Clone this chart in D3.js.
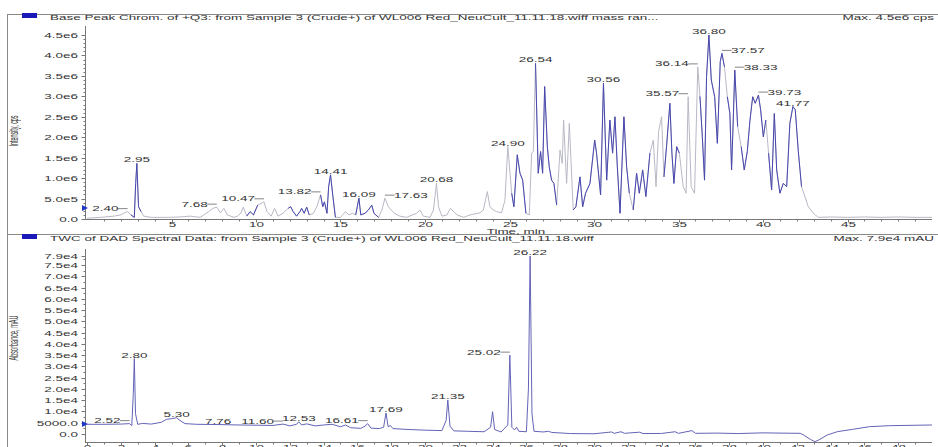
<!DOCTYPE html>
<html>
<head>
<meta charset="utf-8">
<style>
  body { margin: 0; background: #fff; }
  svg text { font-family: 'Liberation Sans', Arial, sans-serif; font-size: 7.5px; fill: #333; }
</style>
<script src="https://cdn.jsdelivr.net/npm/d3@7"></script>
</head>
<body>
<script>
// ---- data: base peak chromatogram (+Q3), time in min, intensity in cps
const topTimes = [0.0,0.8,1.6,2.0,2.25,2.40,2.6,2.8,2.88,2.95,3.05,3.2,3.35,3.8,4.8,5.5,6.1,6.7,7.2,7.45,7.68,7.9,8.1,8.3,8.5,8.7,8.9,9.1,9.25,9.45,9.65,9.85,10.1,10.3,10.47,10.65,10.9,11.1,11.3,11.6,11.9,12.05,12.2,12.4,12.6,12.7,12.85,13.0,13.15,13.4,13.6,13.82,13.95,14.05,14.2,14.3,14.41,14.55,14.7,15.0,15.3,15.5,15.7,15.9,16.09,16.2,16.45,16.65,16.85,16.98,17.25,17.45,17.63,17.83,18.0,18.2,18.5,18.9,19.5,19.7,19.9,20.3,20.5,20.68,20.8,21.0,21.3,21.5,21.7,21.9,22.3,22.66,23.25,23.45,23.69,23.84,24.04,24.24,24.53,24.73,24.90,25.13,25.26,25.46,25.62,25.78,25.97,26.17,26.31,26.41,26.54,26.70,26.84,26.96,27.08,27.24,27.35,27.49,27.63,27.79,27.99,28.12,28.20,28.38,28.54,28.77,28.93,29.17,29.33,29.50,29.76,30.04,30.15,30.39,30.56,30.75,30.94,31.10,31.24,31.38,31.54,31.77,31.93,32.09,32.32,32.52,32.68,32.88,33.07,33.31,33.51,33.67,33.82,34.00,34.14,34.30,34.49,34.61,34.73,34.89,35.05,35.28,35.45,35.57,35.75,35.95,36.14,36.27,36.41,36.54,36.66,36.80,36.94,37.14,37.30,37.47,37.57,37.72,37.89,38.04,38.14,38.24,38.33,38.50,38.71,38.89,39.07,39.23,39.39,39.54,39.73,39.86,40.02,40.17,40.33,40.51,40.67,40.81,41.00,41.20,41.40,41.59,41.77,41.91,42.09,42.28,42.48,42.68,42.98,43.27,44,45,46,47,48,49,50];
const topIntensity = [0.02e6,0.04e6,0.07e6,0.10e6,0.16e6,0.18e6,0.10e6,0.04e6,0.87e6,1.36e6,0.30e6,0.18e6,0.07e6,0.04e6,0.04e6,0.05e6,0.07e6,0.04e6,0.18e6,0.26e6,0.29e6,0.15e6,0.26e6,0.10e6,0.07e6,0.04e6,0.07e6,0.14e6,0.29e6,0.07e6,0.18e6,0.10e6,0.34e6,0.38e6,0.42e6,0.18e6,0.07e6,0.26e6,0.07e6,0.14e6,0.26e6,0.30e6,0.18e6,0.07e6,0.18e6,0.26e6,0.14e6,0.29e6,0.10e6,0.14e6,0.30e6,0.59e6,0.30e6,0.42e6,0.14e6,0.79e6,1.08e6,0.55e6,0.04e6,0.04e6,0.18e6,0.10e6,0.14e6,0.10e6,0.51e6,0.10e6,0.14e6,0.22e6,0.34e6,0.14e6,0.04e6,0.22e6,0.51e6,0.30e6,0.22e6,0.14e6,0.07e6,0.04e6,0.14e6,0.22e6,0.07e6,0.04e6,0.22e6,0.87e6,0.30e6,0.07e6,0.10e6,0.26e6,0.18e6,0.10e6,0.04e6,0.10e6,0.15e6,0.22e6,0.67e6,0.30e6,0.22e6,0.18e6,0.15e6,0.46e6,1.77e6,0.63e6,0.30e6,1.57e6,1.12e6,0.95e6,0.14e6,0.10e6,1.61e6,1.65e6,3.81e6,1.12e6,1.65e6,1.12e6,3.24e6,1.77e6,1.28e6,0.95e6,0.87e6,0.34e6,1.69e6,1.36e6,2.42e6,0.87e6,2.34e6,0.22e6,0.30e6,1.03e6,0.30e6,0.63e6,0.87e6,1.93e6,1.61e6,0.59e6,3.32e6,0.95e6,2.42e6,1.61e6,2.50e6,1.28e6,0.14e6,2.50e6,1.28e6,0.63e6,0.22e6,1.12e6,0.63e6,1.20e6,0.55e6,1.61e6,1.93e6,0.79e6,2.14e6,2.50e6,1.03e6,1.81e6,2.83e6,1.61e6,0.87e6,1.77e6,1.61e6,0.79e6,0.63e6,2.99e6,0.79e6,0.63e6,3.72e6,3.00e6,2.01e6,0.95e6,3.48e6,4.50e6,3.40e6,2.99e6,1.85e6,3.85e6,4.05e6,3.72e6,2.99e6,2.58e6,1.20e6,2.42e6,3.64e6,2.26e6,1.77e6,1.20e6,1.65e6,2.42e6,2.99e6,2.83e6,3.03e6,2.67e6,2.01e6,2.42e6,1.61e6,0.71e6,2.58e6,1.20e6,0.63e6,0.87e6,0.79e6,2.34e6,2.75e6,2.67e6,1.65e6,0.79e6,0.55e6,0.30e6,0.14e6,0.04e6,0.05e6,0.04e6,0.05e6,0.04e6,0.05e6,0.04e6,0.04e6];
const topPeakTimes = [2.40,2.95,7.68,10.47,13.82,14.41,16.09,17.63,20.68,24.90,26.54,30.56,35.57,36.14,36.80,37.57,38.33,39.73,41.77];
// stretches of the trace that the software drew in dark blue
const topDarkSpans = [[2.8,3.1],[9.55,9.95],[11.95,12.25],[12.55,13.1],[13.9,14.65],[15.95,16.2],[16.6,17.05],[25.2,25.85],[26.65,27.7],[28.9,29.6],[29.9,30.4],[30.7,31.95],[32.4,33.1],[34.2,35.0],[36.3,37.6],[38.0,38.4],[38.8,40.05],[40.45,40.85],[41.2,42.2]];

// ---- data: TWC of DAD, time in min, absorbance in mAU
const dadTimes = [0,1.0,2.0,2.52,2.65,2.74,2.80,2.87,3.0,3.3,3.8,4.4,4.7,5.0,5.3,5.5,5.8,6.5,7.76,9.0,10.0,11.0,11.6,12.0,12.4,12.53,12.7,13.0,13.5,14.0,14.5,15.0,15.3,15.6,16.2,16.45,16.61,16.8,17.3,17.55,17.69,17.82,17.95,18.1,19.0,20.0,21.0,21.25,21.35,21.48,21.7,22.5,23.5,23.88,24.0,24.12,24.5,24.9,25.02,25.14,25.3,25.42,25.55,26.0,26.12,26.22,26.33,26.45,27.0,27.3,27.5,28.6,30.0,31.04,31.2,31.6,31.8,32.7,32.9,34.0,34.8,35.0,35.8,36.0,37.3,38.5,40.0,41.0,42.2,42.4,42.8,43.07,43.3,43.8,44.4,45.3,46.3,47.5,50.0];
const dadAbsorbance = [4300,4300,4400,4600,3700,18000,33500,9000,4300,4700,4400,5200,6500,6800,7200,6000,4600,4300,4200,4000,3900,3800,4400,3600,4300,5400,4000,4500,3600,4000,4300,3200,4000,2800,2500,3500,4600,2600,2400,3000,9300,3200,3800,2400,2000,1700,1500,6000,15100,3500,1400,1200,1000,3000,9900,2000,900,4000,35000,3000,1800,3000,1200,1000,20000,79000,9000,1200,900,1200,700,200,100,900,300,1000,300,800,200,250,1000,300,1500,300,400,200,500,400,300,-440,-2370,-3400,-2660,-440,1030,2070,3250,3700,4000];
const dadPeakTimes = [2.52,2.80,5.30,7.76,11.60,12.53,16.61,17.69,21.35,25.02,26.22];

// ---- ticks
const topYTicks = [0,5e5,1e6,1.5e6,2e6,2.5e6,3e6,3.5e6,4e6,4.5e6];
const topXTicks = [5,10,15,20,25,30,35,40,45];
const dadYTicks = [0,5000,10000,15000,20000,25000,30000,35000,40000,45000,50000,55000,60000,65000,70000,75000,79000];
const dadXTicks = d3.range(0, 50, 2);

const topTitle = "Base Peak Chrom. of +Q3: from Sample 3 (Crude+) of WL006 Red_NeuCult_11.11.18.wiff mass ran...";
const topMax = "Max. 4.5e6 cps";
const dadTitle = "TWC of DAD Spectral Data: from Sample 3 (Crude+) of WL006 Red_NeuCult_11.11.18.wiff";
const dadMax = "Max. 7.9e4 mAU";

// ---- layout
const W = 938, H = 447;
const SX = 1.8;           // the screenshot is stretched sideways
const svg = d3.select('body').append('svg').attr('width', W).attr('height', H);

const x = d3.scaleLinear().domain([0, 50]).range([87, 932]);
const yTop = d3.scaleLinear().domain([0, 4.5e6]).range([219, 35]);
const yDad = d3.scaleLinear().domain([0, 79000]).range([434, 256]);

// wide text helper
function stext(g, px, py, str, anchor) {
    return g.append('text')
        .attr('transform', `translate(${px},${py}) scale(${SX},1)`)
        .attr('text-anchor', anchor || 'start')
        .text(str);
}

const fmtTop = v => v === 0 ? '0.0' : v.toExponential(1).replace('e+', 'e');
const fmtDad = v => v === 0 ? '0.0' : (v < 10000 ? v.toFixed(1) : v.toExponential(1).replace('e+', 'e'));

// frame lines
const frame = svg.append('g').attr('stroke', '#8a8a8a').attr('stroke-width', 1);
frame.append('line').attr('x1', 7.5).attr('x2', 7.5).attr('y1', 14).attr('y2', H);
frame.append('line').attr('x1', 7).attr('x2', W).attr('y1', 14.5).attr('y2', 14.5);
frame.append('line').attr('x1', 7).attr('x2', W).attr('y1', 234.5).attr('y2', 234.5);

// headers
function header(y, title, maxText) {
    svg.append('rect').attr('x', 22).attr('y', y - 7).attr('width', 15).attr('height', 5).attr('fill', '#1a1ab8');
    stext(svg, 50, y, title);
    stext(svg, 934, y, maxText, 'end');
}
header(20, topTitle, topMax);
header(241, dadTitle, dadMax);

// axis helpers
function yAxis(scale, ticks, fmt, minor, y0, y1) {
    const g = svg.append('g').attr('stroke', '#777').attr('stroke-width', 1);
    g.append('line').attr('x1', 85.5).attr('x2', 85.5).attr('y1', y0).attr('y2', y1);
    minor.forEach(v => g.append('line').attr('x1', 83.5).attr('x2', 85.5)
        .attr('y1', Math.round(scale(v)) + 0.5).attr('y2', Math.round(scale(v)) + 0.5));
    ticks.forEach(v => {
        const yy = Math.round(scale(v)) + 0.5;
        g.append('line').attr('x1', 81.5).attr('x2', 85.5).attr('y1', yy).attr('y2', yy);
        stext(svg, 78, yy + 2.6, fmt(v), 'end');
    });
}
function xAxis(yy, ticks, minor, labelY) {
    const g = svg.append('g').attr('stroke', '#777').attr('stroke-width', 1);
    g.append('line').attr('x1', 85).attr('x2', 932).attr('y1', yy + 0.5).attr('y2', yy + 0.5);
    minor.forEach(v => g.append('line').attr('x1', Math.round(x(v)) + 0.5).attr('x2', Math.round(x(v)) + 0.5)
        .attr('y1', yy).attr('y2', yy + 2.5));
    ticks.forEach(v => {
        const xx = Math.round(x(v)) + 0.5;
        g.append('line').attr('x1', xx).attr('x2', xx).attr('y1', yy).attr('y2', yy + 3.5);
        stext(svg, xx, labelY, String(v), 'middle');
    });
}

yAxis(yTop, topYTicks, fmtTop, d3.range(1e5, 4.6e6, 1e5), 26, 219);
xAxis(219, topXTicks, d3.range(1, 50, 1), 226.5);
yAxis(yDad, dadYTicks, fmtDad, d3.range(2500, 79000, 5000), 249, 442);
xAxis(442, dadXTicks, d3.range(1, 50, 2), 449.5);

stext(svg, 516, 233.5, 'Time, min', 'middle');

// rotated axis titles, squeezed like the original
function ytitle(cy, str, len) {
    svg.append('text')
        .attr('transform', `translate(18,${cy}) rotate(-90) scale(1,1.7)`)
        .attr('text-anchor', 'middle')
        .attr('textLength', len).attr('lengthAdjust', 'spacingAndGlyphs')
        .style('font-size', '7px')
        .text(str);
}
ytitle(131, 'Intensity, cps', 31);
ytitle(338, 'Absorbance, mAU', 45);

// baseline markers
[208, 424].forEach(yy => {
    svg.append('path').attr('d', `M82,${yy - 3}L88,${yy}L82,${yy + 3}Z`).attr('fill', '#2236c8');
});

// traces
const topData = topTimes.map((t, i) => ({ t, v: topIntensity[i] }));
const dadData = dadTimes.map((t, i) => ({ t, v: dadAbsorbance[i] }));

const lineTop = d3.line().x(d => x(d.t)).y(d => yTop(d.v));
const lineDad = d3.line().x(d => x(d.t)).y(d => yDad(d.v));

svg.append('path').datum(topData).attr('d', lineTop)
    .attr('fill', 'none').attr('stroke', '#b9b9c6').attr('stroke-width', 1);

topDarkSpans.forEach(([a, b]) => {
    let i0 = topData.findIndex(d => d.t >= a);
    let i1 = topData.length - 1 - [...topData].reverse().findIndex(d => d.t <= b);
    i0 = Math.max(0, i0 - 1); i1 = Math.min(topData.length - 1, i1 + 1);
    svg.append('path').datum(topData.slice(i0, i1 + 1)).attr('d', lineTop)
        .attr('fill', 'none').attr('stroke', '#4848b0').attr('stroke-width', 1);
});

svg.append('path').datum(dadData).attr('d', lineDad)
    .attr('fill', 'none').attr('stroke', '#6464b8').attr('stroke-width', 1);

// peak labels
const topSide = { '2.40': -1, '7.68': -1, '10.47': -1, '13.82': -1, '17.63': 1, '35.57': -1, '36.14': -1, '37.57': 1, '38.33': 1, '39.73': 1 };
const dadSide = { '2.52': -1, '11.60': -1, '16.61': -1, '25.02': -1 };

function peakLabels(peaks, data, yScale, side) {
    const g = svg.append('g');
    peaks.forEach(t => {
        const d = data.find(p => Math.abs(p.t - t) < 1e-6);
        const px = x(t), py = yScale(d.v);
        const lab = t.toFixed(2);
        const s = side[lab];
        if (!s) {
            stext(g, px, py - 1, lab, 'middle');
        } else {
            const ly = py - 3;
            const edge = px + s * 9;
            stext(g, edge, ly + 2.6, lab, s < 0 ? 'end' : 'start');
            g.append('line').attr('x1', edge + s * 0.5).attr('x2', px).attr('y1', ly).attr('y2', ly)
                .attr('stroke', '#666').attr('stroke-width', 0.8);
        }
    });
}
peakLabels(topPeakTimes, topData, yTop, topSide);
peakLabels(dadPeakTimes, dadData, yDad, dadSide);
</script>
</body>
</html>
